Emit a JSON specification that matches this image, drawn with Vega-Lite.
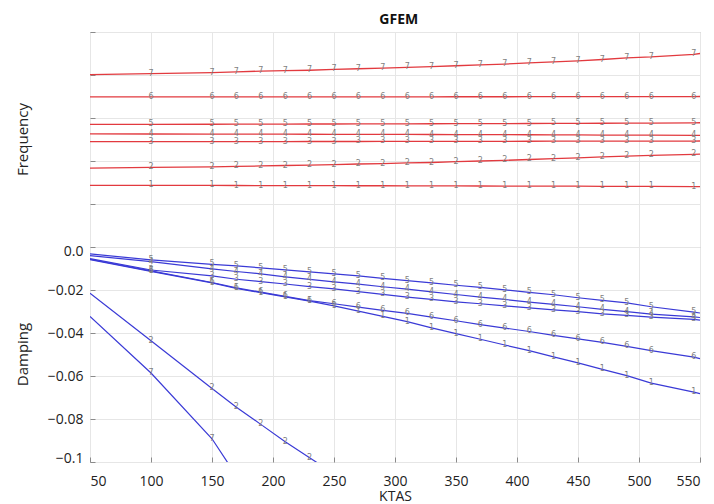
{
  "$schema": "https://vega.github.io/schema/vega-lite/v6.json",
  "background": "white",
  "padding": {"left": 14, "top": 13, "right": 5, "bottom": 0},
  "title": {"text": "GFEM", "fontSize": 14, "fontWeight": "bold", "font": "Open Sans", "color": "#111111", "anchor": "middle", "offset": 4, "dx": 40},
  "config": {
    "font": "Open Sans",
    "view": {"stroke": "#a6a6a6", "strokeWidth": 1},
    "axis": {
      "labelFont": "Open Sans", "labelFontSize": 14, "labelColor": "#222222",
      "titleFont": "Open Sans", "titleFontSize": 15, "titleFontWeight": "normal", "titleColor": "#222222",
      "gridColor": "#e6e6e6", "gridWidth": 1, "domain": false,
      "tickColor": "#8a8a8a", "tickSize": -5, "labelPadding": 12
    }
  },
  "datasets": {
    "gfem": [
      {"ktas":50,"mode":1,"freq":14.35,"damp":-0.0059},{"ktas":100,"mode":1,"freq":14.33,"damp":-0.0113},{"ktas":150,"mode":1,"freq":14.31,"damp":-0.0167},{"ktas":170,"mode":1,"freq":14.30,"damp":-0.0193},{"ktas":190,"mode":1,"freq":14.29,"damp":-0.0212},{"ktas":210,"mode":1,"freq":14.28,"damp":-0.0232},{"ktas":230,"mode":1,"freq":14.27,"damp":-0.0252},{"ktas":250,"mode":1,"freq":14.26,"damp":-0.0274},{"ktas":270,"mode":1,"freq":14.25,"damp":-0.0298},{"ktas":290,"mode":1,"freq":14.24,"damp":-0.0323},{"ktas":310,"mode":1,"freq":14.23,"damp":-0.0347},{"ktas":330,"mode":1,"freq":14.21,"damp":-0.0376},{"ktas":350,"mode":1,"freq":14.20,"damp":-0.0403},{"ktas":370,"mode":1,"freq":14.19,"damp":-0.0429},{"ktas":390,"mode":1,"freq":14.18,"damp":-0.0456},{"ktas":410,"mode":1,"freq":14.17,"damp":-0.0482},{"ktas":430,"mode":1,"freq":14.15,"damp":-0.0511},{"ktas":450,"mode":1,"freq":14.14,"damp":-0.0539},{"ktas":470,"mode":1,"freq":14.12,"damp":-0.0569},{"ktas":490,"mode":1,"freq":14.11,"damp":-0.0598},{"ktas":510,"mode":1,"freq":14.09,"damp":-0.0633},{"ktas":545,"mode":1,"freq":14.06,"damp":-0.0675},{"ktas":550,"mode":1,"freq":14.05,"damp":-0.0682},
      {"ktas":50,"mode":2,"freq":18.35,"damp":-0.0215},{"ktas":100,"mode":2,"freq":18.5,"damp":-0.0436},{"ktas":150,"mode":2,"freq":18.65,"damp":-0.0658},{"ktas":170,"mode":2,"freq":18.75,"damp":-0.0745},{"ktas":190,"mode":2,"freq":18.85,"damp":-0.0825},{"ktas":210,"mode":2,"freq":18.95,"damp":-0.0906},{"ktas":230,"mode":2,"freq":19.05,"damp":-0.0980},{"ktas":250,"mode":2,"freq":19.15,"damp":-0.1055},{"ktas":270,"mode":2,"freq":19.3,"damp":null},{"ktas":290,"mode":2,"freq":19.4,"damp":null},{"ktas":310,"mode":2,"freq":19.55,"damp":null},{"ktas":330,"mode":2,"freq":19.65,"damp":null},{"ktas":350,"mode":2,"freq":19.85,"damp":null},{"ktas":370,"mode":2,"freq":20.0,"damp":null},{"ktas":390,"mode":2,"freq":20.15,"damp":null},{"ktas":410,"mode":2,"freq":20.35,"damp":null},{"ktas":430,"mode":2,"freq":20.55,"damp":null},{"ktas":450,"mode":2,"freq":20.75,"damp":null},{"ktas":470,"mode":2,"freq":20.95,"damp":null},{"ktas":490,"mode":2,"freq":21.15,"damp":null},{"ktas":510,"mode":2,"freq":21.3,"damp":null},{"ktas":545,"mode":2,"freq":21.55,"damp":null},{"ktas":550,"mode":2,"freq":21.6,"damp":null},
      {"ktas":50,"mode":3,"freq":24.50,"damp":-0.0054},{"ktas":100,"mode":3,"freq":24.50,"damp":-0.0107},{"ktas":150,"mode":3,"freq":24.51,"damp":-0.0134},{"ktas":170,"mode":3,"freq":24.51,"damp":-0.0150},{"ktas":190,"mode":3,"freq":24.52,"damp":-0.0161},{"ktas":210,"mode":3,"freq":24.52,"damp":-0.0172},{"ktas":230,"mode":3,"freq":24.53,"damp":-0.0184},{"ktas":250,"mode":3,"freq":24.53,"damp":-0.0195},{"ktas":270,"mode":3,"freq":24.54,"damp":-0.0208},{"ktas":290,"mode":3,"freq":24.55,"damp":-0.0220},{"ktas":310,"mode":3,"freq":24.55,"damp":-0.0233},{"ktas":330,"mode":3,"freq":24.56,"damp":-0.0244},{"ktas":350,"mode":3,"freq":24.57,"damp":-0.0255},{"ktas":370,"mode":3,"freq":24.57,"damp":-0.0264},{"ktas":390,"mode":3,"freq":24.58,"damp":-0.0274},{"ktas":410,"mode":3,"freq":24.59,"damp":-0.0283},{"ktas":430,"mode":3,"freq":24.60,"damp":-0.0292},{"ktas":450,"mode":3,"freq":24.60,"damp":-0.0301},{"ktas":470,"mode":3,"freq":24.61,"damp":-0.0311},{"ktas":490,"mode":3,"freq":24.62,"damp":-0.0318},{"ktas":510,"mode":3,"freq":24.63,"damp":-0.0326},{"ktas":545,"mode":3,"freq":24.64,"damp":-0.0337},{"ktas":550,"mode":3,"freq":24.65,"damp":-0.0340},
      {"ktas":50,"mode":4,"freq":26.30,"damp":-0.0040},{"ktas":100,"mode":4,"freq":26.28,"damp":-0.0068},{"ktas":150,"mode":4,"freq":26.26,"damp":-0.0102},{"ktas":170,"mode":4,"freq":26.25,"damp":-0.0114},{"ktas":190,"mode":4,"freq":26.24,"damp":-0.0125},{"ktas":210,"mode":4,"freq":26.23,"damp":-0.0139},{"ktas":230,"mode":4,"freq":26.22,"damp":-0.0151},{"ktas":250,"mode":4,"freq":26.21,"damp":-0.0162},{"ktas":270,"mode":4,"freq":26.20,"damp":-0.0173},{"ktas":290,"mode":4,"freq":26.18,"damp":-0.0185},{"ktas":310,"mode":4,"freq":26.17,"damp":-0.0196},{"ktas":330,"mode":4,"freq":26.16,"damp":-0.0209},{"ktas":350,"mode":4,"freq":26.14,"damp":-0.0221},{"ktas":370,"mode":4,"freq":26.13,"damp":-0.0233},{"ktas":390,"mode":4,"freq":26.12,"damp":-0.0244},{"ktas":410,"mode":4,"freq":26.10,"damp":-0.0256},{"ktas":430,"mode":4,"freq":26.08,"damp":-0.0267},{"ktas":450,"mode":4,"freq":26.06,"damp":-0.0278},{"ktas":470,"mode":4,"freq":26.04,"damp":-0.0290},{"ktas":490,"mode":4,"freq":26.02,"damp":-0.0301},{"ktas":510,"mode":4,"freq":26.00,"damp":-0.0312},{"ktas":545,"mode":4,"freq":25.96,"damp":-0.0325},{"ktas":550,"mode":4,"freq":25.95,"damp":-0.0328},
      {"ktas":50,"mode":5,"freq":28.50,"damp":-0.0032},{"ktas":100,"mode":5,"freq":28.52,"damp":-0.0060},{"ktas":150,"mode":5,"freq":28.55,"damp":-0.0081},{"ktas":170,"mode":5,"freq":28.56,"damp":-0.0088},{"ktas":190,"mode":5,"freq":28.57,"damp":-0.0097},{"ktas":210,"mode":5,"freq":28.58,"damp":-0.0106},{"ktas":230,"mode":5,"freq":28.60,"damp":-0.0116},{"ktas":250,"mode":5,"freq":28.61,"damp":-0.0125},{"ktas":270,"mode":5,"freq":28.62,"damp":-0.0134},{"ktas":290,"mode":5,"freq":28.63,"damp":-0.0146},{"ktas":310,"mode":5,"freq":28.65,"damp":-0.0156},{"ktas":330,"mode":5,"freq":28.66,"damp":-0.0167},{"ktas":350,"mode":5,"freq":28.67,"damp":-0.0178},{"ktas":370,"mode":5,"freq":28.69,"damp":-0.0188},{"ktas":390,"mode":5,"freq":28.70,"damp":-0.0199},{"ktas":410,"mode":5,"freq":28.72,"damp":-0.0211},{"ktas":430,"mode":5,"freq":28.74,"damp":-0.0222},{"ktas":450,"mode":5,"freq":28.76,"damp":-0.0236},{"ktas":470,"mode":5,"freq":28.78,"damp":-0.0248},{"ktas":490,"mode":5,"freq":28.80,"damp":-0.0260},{"ktas":510,"mode":5,"freq":28.82,"damp":-0.0278},{"ktas":545,"mode":5,"freq":28.88,"damp":-0.0303},{"ktas":550,"mode":5,"freq":28.90,"damp":-0.0307},
      {"ktas":50,"mode":6,"freq":34.90,"damp":-0.0057},{"ktas":100,"mode":6,"freq":34.90,"damp":-0.0111},{"ktas":150,"mode":6,"freq":34.90,"damp":-0.0165},{"ktas":170,"mode":6,"freq":34.91,"damp":-0.0190},{"ktas":190,"mode":6,"freq":34.91,"damp":-0.0210},{"ktas":210,"mode":6,"freq":34.91,"damp":-0.0230},{"ktas":230,"mode":6,"freq":34.92,"damp":-0.0249},{"ktas":250,"mode":6,"freq":34.92,"damp":-0.0264},{"ktas":270,"mode":6,"freq":34.92,"damp":-0.0280},{"ktas":290,"mode":6,"freq":34.93,"damp":-0.0295},{"ktas":310,"mode":6,"freq":34.93,"damp":-0.0309},{"ktas":330,"mode":6,"freq":34.93,"damp":-0.0326},{"ktas":350,"mode":6,"freq":34.94,"damp":-0.0343},{"ktas":370,"mode":6,"freq":34.94,"damp":-0.0361},{"ktas":390,"mode":6,"freq":34.94,"damp":-0.0377},{"ktas":410,"mode":6,"freq":34.95,"damp":-0.0393},{"ktas":430,"mode":6,"freq":34.95,"damp":-0.0411},{"ktas":450,"mode":6,"freq":34.96,"damp":-0.0427},{"ktas":470,"mode":6,"freq":34.96,"damp":-0.0444},{"ktas":490,"mode":6,"freq":34.97,"damp":-0.0462},{"ktas":510,"mode":6,"freq":34.98,"damp":-0.0482},{"ktas":545,"mode":6,"freq":34.99,"damp":-0.0512},{"ktas":550,"mode":6,"freq":35.00,"damp":-0.0519},
      {"ktas":50,"mode":7,"freq":40.10,"damp":-0.0323},{"ktas":100,"mode":7,"freq":40.30,"damp":-0.0586},{"ktas":150,"mode":7,"freq":40.55,"damp":-0.0892},{"ktas":170,"mode":7,"freq":40.75,"damp":-0.1064},{"ktas":190,"mode":7,"freq":40.90,"damp":null},{"ktas":210,"mode":7,"freq":41.00,"damp":null},{"ktas":230,"mode":7,"freq":41.10,"damp":null},{"ktas":250,"mode":7,"freq":41.30,"damp":null},{"ktas":270,"mode":7,"freq":41.45,"damp":null},{"ktas":290,"mode":7,"freq":41.60,"damp":null},{"ktas":310,"mode":7,"freq":41.75,"damp":null},{"ktas":330,"mode":7,"freq":41.95,"damp":null},{"ktas":350,"mode":7,"freq":42.15,"damp":null},{"ktas":370,"mode":7,"freq":42.35,"damp":null},{"ktas":390,"mode":7,"freq":42.55,"damp":null},{"ktas":410,"mode":7,"freq":42.80,"damp":null},{"ktas":430,"mode":7,"freq":43.05,"damp":null},{"ktas":450,"mode":7,"freq":43.30,"damp":null},{"ktas":470,"mode":7,"freq":43.60,"damp":null},{"ktas":490,"mode":7,"freq":44.00,"damp":null},{"ktas":510,"mode":7,"freq":44.20,"damp":null},{"ktas":545,"mode":7,"freq":44.80,"damp":null},{"ktas":550,"mode":7,"freq":45.00,"damp":null}
    ]
  },
  "data": {"name": "gfem"},
  "spacing": 0,
  "bounds": "flush",
  "vconcat": [
    {
      "width": 610,
      "height": 215,
      "encoding": {
        "x": {"field": "ktas", "type": "quantitative", "scale": {"domain": [50, 550], "nice": false, "zero": false},
              "axis": {"values": [50,100,150,200,250,300,350,400,450,500,550], "labels": false, "ticks": false, "title": null, "grid": true}},
        "y": {"field": "freq", "type": "quantitative", "scale": {"domain": [0, 50], "nice": false, "zero": false},
              "axis": {"values": [0,10,20,30,40,50], "labels": false, "title": "Frequency", "titleX": -68, "titleY": 107, "titleBaseline": "middle", "grid": true}}
      },
      "layer": [
        {"mark": {"type": "line", "color": "#e23a3f", "strokeWidth": 1.3}, "encoding": {"detail": {"field": "mode", "type": "nominal"}}},
        {"transform": [{"filter": "datum.ktas > 50 && datum.ktas < 550"}],
         "mark": {"type": "text", "color": "#7f7f7f", "fontSize": 8, "font": "DejaVu Sans"},
         "encoding": {"text": {"field": "mode", "type": "nominal"}}}
      ]
    },
    {
      "width": 610,
      "height": 215,
      "encoding": {
        "x": {"field": "ktas", "type": "quantitative", "scale": {"domain": [50, 550], "nice": false, "zero": false},
              "axis": {"values": [50,100,150,200,250,300,350,400,450,500,550], "labelPadding": 17, "title": "KTAS", "titleFontSize": 14, "titlePadding": 1, "grid": true}},
        "y": {"field": "damp", "type": "quantitative", "scale": {"domain": [-0.1, 0], "nice": false, "zero": false},
              "axis": {"values": [-0.1,-0.08,-0.06,-0.04,-0.02,0], "labelExpr": "datum.value == 0 ? '0.0' : (datum.value == -0.1 ? '−0.1' : format(datum.value, '.2f'))", "labelFlush": true, "labelFlushOffset": 3, "title": "Damping", "titleX": -68, "titleY": 107, "titleBaseline": "middle", "grid": true}}
      },
      "layer": [
        {"transform": [{"filter": "isValid(datum.damp)"}],
         "mark": {"type": "line", "color": "#3a3ad6", "strokeWidth": 1.2, "clip": true}, "encoding": {"detail": {"field": "mode", "type": "nominal"}}},
        {"transform": [{"filter": "isValid(datum.damp) && datum.ktas > 50 && datum.ktas < 550"}],
         "mark": {"type": "text", "color": "#7f7f7f", "fontSize": 8, "font": "DejaVu Sans", "clip": true},
         "encoding": {"text": {"field": "mode", "type": "nominal"}}}
      ]
    }
  ]
}
